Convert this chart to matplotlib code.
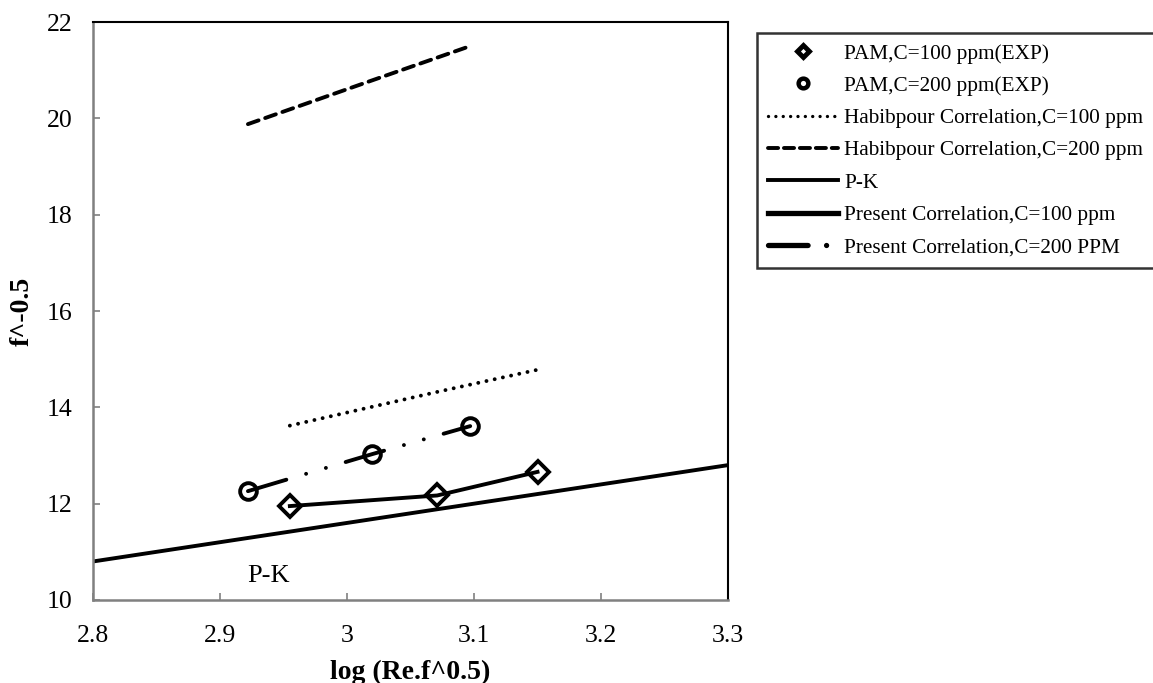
import matplotlib
matplotlib.use("Agg")
import matplotlib.pyplot as plt
from matplotlib.lines import Line2D

plt.rcParams['font.family'] = ['Liberation Serif', 'DejaVu Serif']

# Experimental data
x_exp100 = [2.955, 3.071, 3.150]
y_exp100 = [11.95, 12.17, 12.66]
x_exp200 = [2.922, 3.020, 3.097]
y_exp200 = [12.26, 13.03, 13.61]

# Habibpour correlation
x_hab100 = [2.955, 3.071, 3.150]
y_hab100 = [13.62, 14.32, 14.78]
x_hab200 = [2.922, 3.020, 3.097]
y_hab200 = [19.88, 20.79, 21.50]

# Prandtl-Karman
x_pk = [2.8, 3.3]
y_pk = [10.8, 12.8]

xticks = [2.8, 2.9, 3.0, 3.1, 3.2, 3.3]
xticklabels = ['2.8', '2.9', '3', '3.1', '3.2', '3.3']
yticks = [10, 12, 14, 16, 18, 20, 22]

labels = ['PAM,C=100 ppm(EXP)', 'PAM,C=200 ppm(EXP)',
          'Habibpour Correlation,C=100 ppm', 'Habibpour Correlation,C=200 ppm',
          'P-K', 'Present Correlation,C=100 ppm', 'Present Correlation,C=200 PPM']

W, H = 1153, 683
fig = plt.figure(figsize=(W / 100, H / 100), dpi=100)
ax = fig.add_axes([93 / W, 1 - 600 / H, (728 - 93) / W, (600 - 22) / H])

lw = 2.8
dotted = (0, (0.01, 2.15))
dashed = (0, (2.9, 1.8))
dashdotdot = (0, (10.3, 5.3, 0.01, 5.3, 0.01, 5.3))

ax.plot(x_pk, y_pk, color='black', lw=lw, solid_capstyle='butt', zorder=2)
ax.plot(x_hab100, y_hab100, color='black', lw=lw, linestyle=dotted,
        dash_capstyle='round', zorder=2)
ax.plot(x_hab200, y_hab200, color='black', lw=lw, linestyle=dashed,
        dash_capstyle='round', zorder=2)
ax.plot(x_exp100, y_exp100, color='black', lw=lw, zorder=3)
ax.plot(x_exp200, y_exp200, color='black', lw=lw, linestyle=dashdotdot,
        dash_capstyle='round', zorder=3)
ax.plot(x_exp100, y_exp100, linestyle='none', marker='D', ms=11, mew=2.8,
        mec='black', mfc='none', zorder=4)
ax.plot(x_exp200, y_exp200, linestyle='none', marker='o', ms=12, mew=2.8,
        mec='black', mfc='none', zorder=4)

ax.text(2.938, 10.5, 'P-K', fontsize=19, ha='center', va='center')

ax.set_xlim(2.8, 3.3)
ax.set_ylim(10, 22)
ax.set_xticks(xticks)
ax.set_xticklabels(xticklabels)
ax.set_yticks(yticks)
ax.tick_params(direction='in', length=5, width=1.2, color='#808080',
               labelsize=18.5)
ax.tick_params(axis='x', pad=18)
ax.tick_params(axis='y', pad=15)
for s in ['left', 'bottom']:
    ax.spines[s].set_color('#808080')
    ax.spines[s].set_linewidth(1.8)
for s in ['top', 'right']:
    ax.spines[s].set_color('black')
    ax.spines[s].set_linewidth(1.5)

ax.set_xlabel('log (Re.f^0.5)', fontsize=20, fontweight='bold')
ax.xaxis.set_label_coords(0.5, -0.104)
ax.set_ylabel('f^-0.5', fontsize=20, fontweight='bold')
ax.yaxis.set_label_coords(-0.092, 0.5)

handles = [
    Line2D([], [], linestyle='none', marker='D', ms=6.5, mew=3.5, mec='black', mfc='white'),
    Line2D([], [], linestyle='none', marker='o', ms=7, mew=3.2, mec='black', mfc='white'),
    Line2D([], [], color='black', lw=2.4, linestyle=(0, (0.01, 2.2)), dash_capstyle='round'),
    Line2D([], [], color='black', lw=2.8, linestyle=(0, (2.6, 1.5)), dash_capstyle='round'),
    Line2D([], [], color='black', lw=2.8),
    Line2D([], [], color='black', lw=3.8),
    Line2D([], [], color='black', lw=3.8, linestyle=(0, (7.5, 3.5, 0.01, 5)), dash_capstyle='round'),
]
leg = fig.legend(handles, labels, loc='upper left',
                 bbox_to_anchor=(757 / W, 1 - 33 / H), fontsize=15.35,
                 frameon=True, fancybox=False, edgecolor='black',
                 handlelength=3.3, handletextpad=0.3, labelspacing=0.58,
                 borderpad=0.5, borderaxespad=0)
leg.get_frame().set_linewidth(1.8)

fig.savefig('out.png', dpi=100)
